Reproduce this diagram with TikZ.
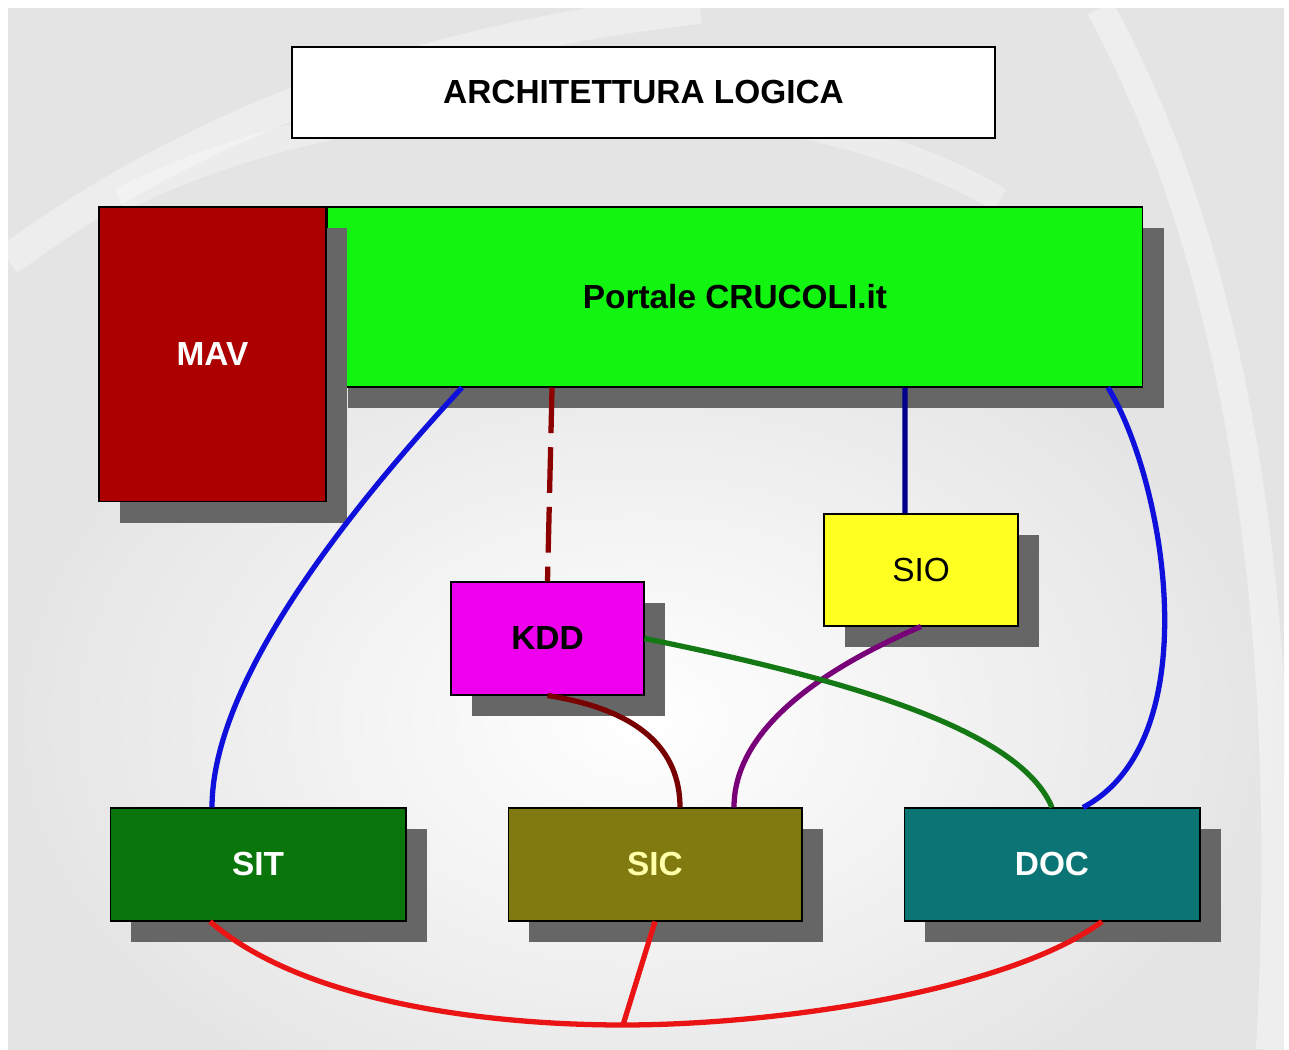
\documentclass[tikz,border=0pt]{standalone}
\usepackage{fontspec}
\setmainfont{Liberation Sans}
\usetikzlibrary{shadows}
\definecolor{bggray}{RGB}{228,228,228}
\definecolor{boxshadow}{RGB}{102,102,102}
\definecolor{mavred}{RGB}{172,0,0}
\definecolor{portalgreen}{RGB}{17,245,17}
\definecolor{kddmagenta}{RGB}{238,0,238}
\definecolor{sioyellow}{RGB}{255,255,34}
\definecolor{sitgreen}{RGB}{10,117,10}
\definecolor{sicolive}{RGB}{128,122,16}
\definecolor{docteal}{RGB}{11,117,117}
\definecolor{sictext}{RGB}{255,255,170}
\definecolor{lnkblue}{RGB}{16,16,220}
\definecolor{lnknavy}{RGB}{0,0,140}
\definecolor{lnkdashred}{RGB}{140,0,0}
\definecolor{lnkdarkred}{RGB}{120,0,0}
\definecolor{lnkpurple}{RGB}{120,0,120}
\definecolor{lnkgreen}{RGB}{20,120,20}
\definecolor{lnkred}{RGB}{235,20,20}

\begin{document}
\begin{tikzpicture}[x=0.02cm, y=-0.02cm, font=\fontsize{19}{22}\selectfont\bfseries,
    blk/.style={draw=black, line width=0.6pt, inner sep=0pt, align=center,
      general shadow={fill=boxshadow, shadow xshift=0.42cm, shadow yshift=-0.42cm}},
    lnk/.style={line width=3pt}]
    % background
    \useasboundingbox (0,0) rectangle (1289,1050);
    \fill[white] (0,0) rectangle (1289,1050);
    \begin{scope}
      \clip (8,8) rectangle (1284,1050);
      \fill[bggray] (8,8) rectangle (1284,1050);
      \shade[inner color=white, outer color=bggray] (640,720) ellipse [x radius=13cm, y radius=9cm];
      \draw[white, opacity=0.35, line width=18pt] (8,260) .. controls (200,120) and (420,40) .. (700,8);
      \draw[white, opacity=0.3, line width=14pt] (120,200) .. controls (400,60) and (800,80) .. (1000,200);
      \draw[white, opacity=0.4, line width=16pt] (1100,8) .. controls (1260,300) and (1290,700) .. (1270,1050);
    \end{scope}

    % boxes
    \node[draw=black, line width=0.8pt, fill=white, minimum width=14.06cm, minimum height=1.82cm] (title) at (643.5,92.5) {ARCHITETTURA LOGICA};
    \node[blk, fill=portalgreen, minimum width=16.32cm, minimum height=3.6cm] (portale) at (735,297) {Portale CRUCOLI.it};
    \node[blk, fill=mavred, text=white, minimum width=4.54cm, minimum height=5.9cm] (mav) at (212.5,354.5) {MAV};
    \node[blk, fill=kddmagenta, minimum width=3.86cm, minimum height=2.26cm] (kdd) at (547.5,638.5) {KDD};
    \node[blk, fill=sioyellow, font=\fontsize{19}{22}\selectfont\mdseries, minimum width=3.88cm, minimum height=2.24cm] (sio) at (921,570) {SIO};
    \node[blk, fill=sitgreen, text=white, minimum width=5.92cm, minimum height=2.26cm] (sit) at (258,864.5) {SIT};
    \node[blk, fill=sicolive, text=sictext, minimum width=5.88cm, minimum height=2.26cm] (sic) at (655,864.5) {SIC};
    \node[blk, fill=docteal, text=white, minimum width=5.92cm, minimum height=2.26cm] (doc) at (1052,864.5) {DOC};
    \coordinate (jn) at (623,1025);

    % links
    \draw[lnk, lnkblue] ([xshift=-5.46cm]portale.south) .. controls (330,530) and (212,690) .. ([xshift=-0.92cm]sit.north);
    \draw[lnk, lnkblue] ([xshift=7.46cm]portale.south) .. controls (1165,480) and (1210,740) .. ([xshift=0.62cm]doc.north);
    \draw[lnk, lnkdashred, dash pattern=on 26pt off 8pt] ([xshift=-3.66cm]portale.south) -- (kdd.north);
    \draw[lnk, lnknavy] ([xshift=3.4cm]portale.south) -- ([xshift=-0.32cm]sio.north);
    \draw[lnk, lnkpurple] (sio.south) .. controls (820,670) and (734,730) .. ([xshift=1.58cm]sic.north);
    \draw[lnk, lnkgreen] (kdd.east) .. controls (850,680) and (1020,730) .. (doc.north);
    \draw[lnk, lnkdarkred] (kdd.south) .. controls (640,710) and (680,750) .. ([xshift=0.5cm]sic.north);
    \draw[lnk, lnkred] ([xshift=-0.96cm]sit.south) .. controls (300,1000) and (480,1025) .. (jn);
    \draw[lnk, lnkred] (jn) .. controls (780,1025) and (1010,990) .. ([xshift=1cm]doc.south);
    \draw[lnk, lnkred] (sic.south) -- (jn);
\end{tikzpicture}
\end{document}
